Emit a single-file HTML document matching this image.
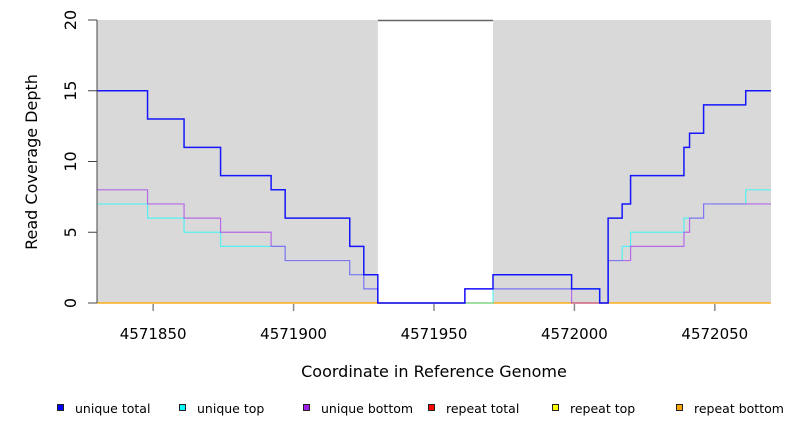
<!DOCTYPE html>
<html><head><meta charset="utf-8"><style>
body{margin:0;background:#fff;}
svg text{font-family:"DejaVu Sans","Liberation Sans",sans-serif;}
</style></head><body>
<svg id="chart" width="792" height="432" xmlns="http://www.w3.org/2000/svg"></svg>
<script>
const breaks = [4571830,4571848,4571861,4571874,4571892,4571897,4571920,4571925,4571930,4571961,4571971,4571999,4572009,4572012,4572017,4572020,4572039,4572041,4572046,4572061,4572070];
const uniqueTotal = [15,13,11,9,8,6,4,2,0,1,2,1,0,6,7,9,11,12,14,15];
const uniqueTop =   [7,6,5,4,4,3,2,1,0,0,1,1,0,3,4,5,6,6,7,8];
const uniqueBottom =[8,7,6,5,4,3,2,1,0,1,1,0,0,3,3,4,5,6,7,7];
const repeatTotal = [0,0,0,0,0,0,0,0,0,0,0,0,0,0,0,0,0,0,0,0];
const repeatTop =   [0,0,0,0,0,0,0,0,0,0,0,0,0,0,0,0,0,0,0,0];
const repeatBottom =[0,0,0,0,0,0,0,0,0,0,0,0,0,0,0,0,0,0,0,0];
const gapRegion = [4571930,4571971];
const xTicks = [4571850,4571900,4571950,4572000,4572050];
const yTicks = [0,5,10,15,20];
const legendLabels = ["unique total","unique top","unique bottom","repeat total","repeat top","repeat bottom"];
const legendColors = ["#0000ff","#00ffff","#a020f0","#ff0000","#ffff00","#ffa500"];

const NS="http://www.w3.org/2000/svg";
const svg=document.getElementById('chart');
const X0=97,X1=771,Y0=303,Y1=20,D0=4571830,D1=4572070;
const sx=v=>X0+(v-D0)/(D1-D0)*(X1-X0);
const sy=v=>Y0-(v/20)*(Y0-Y1);
function mk(tag,attrs,parent){const e=document.createElementNS(NS,tag);for(const k in attrs)e.setAttribute(k,attrs[k]);(parent||svg).appendChild(e);return e;}

let r=mk('rect',{x:X0,y:Y1,width:sx(gapRegion[0])-X0,height:Y0-Y1,fill:'#d9d9d9'});


r=mk('rect',{x:sx(gapRegion[1]),y:Y1,width:X1-sx(gapRegion[1]),height:Y0-Y1,fill:'#d9d9d9'});


let tl=mk('line',{x1:sx(gapRegion[0]),x2:sx(gapRegion[1]),y1:Y1+0.5,y2:Y1+0.5,stroke:'#666','stroke-width':1.5});



function stepPath(vals){let d='';for(let i=0;i<vals.length;i++){const y=sy(vals[i]);d+=(i?'L':'M')+sx(breaks[i])+','+y+'L'+sx(breaks[i+1])+','+y;}return d;}
const series=[[repeatTotal,'#ff0000','repeat-total-line'],[repeatTop,'#ffff00','repeat-top-line'],[repeatBottom,'#ffa500','repeat-bottom-line'],[uniqueTop,'#00ffff','unique-top-line'],[uniqueBottom,'#a020f0','unique-bottom-line'],[uniqueTotal,'#0000ff','unique-total-line']];
series.forEach(s=>{const p=mk('path',{d:stepPath(s[0]),fill:'none',stroke:s[1],'stroke-width':s[2]==='unique-total-line'?1.5:1.2,'stroke-opacity':s[2]==='unique-total-line'?0.9:0.6});

});

let ax=mk('line',{x1:X0,x2:X0,y1:Y1,y2:Y0,stroke:'#444','stroke-width':1});


yTicks.forEach(v=>{const y=sy(v);mk('line',{x1:88,x2:X0,y1:y,y2:y,stroke:'#444'});
const t=mk('text',{x:0,y:0,'font-size':16,'text-anchor':'middle',transform:`translate(76,${y}) rotate(-90)`});t.textContent=v;

});
xTicks.forEach(v=>{const x=sx(v);mk('line',{x1:x,x2:x,y1:304,y2:311,stroke:'#888','stroke-width':1.5});
const t=mk('text',{x:x,y:339,'font-size':15,'text-anchor':'middle'});t.textContent=v;

});
let xt=mk('text',{x:434,y:377,'font-size':16,'text-anchor':'middle'});xt.textContent='Coordinate in Reference Genome';


let yt=mk('text',{x:0,y:0,'font-size':16,'text-anchor':'middle',transform:'translate(37,162) rotate(-90)'});yt.textContent='Read Coverage Depth';



const lx=[57,179,303,428,552,676];
legendLabels.forEach((lab,i)=>{const g=mk('g',{});


mk('rect',{x:lx[i]+0.5,y:404.5,width:6,height:6,fill:legendColors[i],stroke:'#222','stroke-width':1},g);
const t=mk('text',{x:lx[i]+18,y:413,'font-size':12.5},g);t.textContent=lab;});
</script>
</body></html>
